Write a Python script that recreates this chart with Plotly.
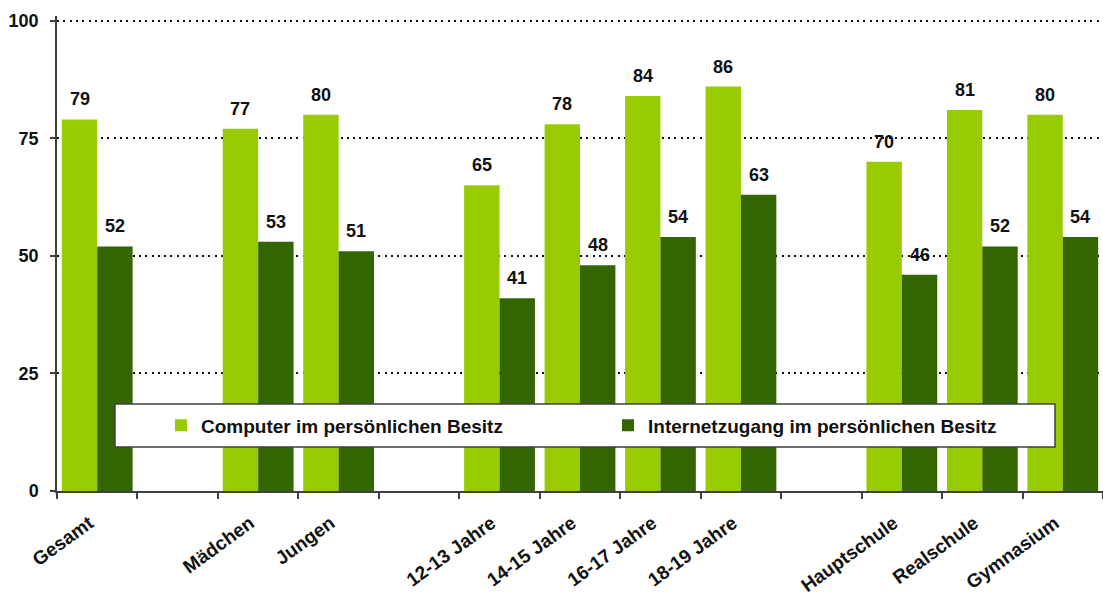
import plotly.graph_objects as go

# Categories along the x axis; empty slots separate the groups
categories = ["Gesamt", " ", "Mädchen", "Jungen", "  ",
              "12-13 Jahre", "14-15 Jahre", "16-17 Jahre", "18-19 Jahre", "   ",
              "Hauptschule", "Realschule", "Gymnasium"]
computer = [79, None, 77, 80, None, 65, 78, 84, 86, None, 70, 81, 80]
internet = [52, None, 53, 51, None, 41, 48, 54, 63, None, 46, 52, 54]
series_names = ["Computer im persönlichen Besitz", "Internetzugang im persönlichen Besitz"]
y_ticks = [0, 25, 50, 75, 100]

LIGHT = "#99CC00"
DARK = "#336600"
FONT = "Liberation Sans"
BARGAP = 0.12
TXT = "#111111"

# plot area: left 57, bottom 491; value 100 sits at pixel row 21
Y_MAX = 101
PLOT_H = 470 * Y_MAX / 100
TOP = 491 - PLOT_H

fig = go.Figure()
fig.add_trace(go.Bar(x=categories, y=computer, name=series_names[0],
                     marker=dict(color=LIGHT, line=dict(width=0))))
fig.add_trace(go.Bar(x=categories, y=internet, name=series_names[1],
                     marker=dict(color=DARK, line=dict(width=0))))

# value labels above each bar
half = (1 - BARGAP) / 4
for series, shift in ((computer, -half), (internet, half)):
    for i, v in enumerate(series):
        if v is None:
            continue
        fig.add_annotation(x=i + shift, y=v, text=f"<b>{v}</b>", showarrow=False,
                           xref="x", yref="y", yanchor="bottom", yshift=8,
                           font=dict(family=FONT, size=18, color=TXT))

# framed box behind the legend
fig.add_shape(type="rect", xref="paper", yref="paper",
              x0=(115 - 57) / 1046, x1=(1055 - 57) / 1046,
              y0=(491 - 447) / PLOT_H, y1=(491 - 404) / PLOT_H,
              fillcolor="white", line=dict(color="#404040", width=1.5), layer="above")

fig.update_layout(
    width=1103, height=596,
    margin=dict(l=57, r=0, t=TOP, b=105, autoexpand=False),
    plot_bgcolor="white", paper_bgcolor="white",
    barmode="group", bargap=BARGAP, bargroupgap=0,
    font=dict(family=FONT, size=18, color=TXT, weight="bold"),
    showlegend=True,
    legend=dict(orientation="h", x=(161 - 57) / 1046, xanchor="left",
                y=(491 - 425.5) / PLOT_H, yanchor="middle",
                bgcolor="rgba(0,0,0,0)", borderwidth=0,
                entrywidth=402, entrywidthmode="pixels",
                font=dict(family=FONT, size=19, color=TXT, weight="bold"),
                itemclick=False),
    xaxis=dict(
        type="category", range=[-0.5, len(categories) - 0.5], automargin=False,
        tickson="boundaries", ticks="outside", ticklen=6, tickwidth=1.5,
        tickcolor="#404040", showline=True, linecolor="#404040", linewidth=1.5,
        tickangle=-36, showgrid=False, ticklabelstandoff=12, ticklabelshift=-8,
        tickfont=dict(family=FONT, size=19, color=TXT, weight="bold"),
    ),
    yaxis=dict(
        range=[0, Y_MAX], tickvals=y_ticks, ticks="outside", ticklen=5, tickwidth=1.5,
        automargin=False,
        tickcolor="#404040", showline=True, linecolor="#404040", linewidth=1.5,
        showgrid=True, gridcolor=TXT, gridwidth=2, griddash="2px,4.3px",
        zeroline=False, ticklabelstandoff=8,
        tickfont=dict(family=FONT, size=18, color=TXT, weight="bold"),
    ),
)

fig.write_html("out.html")
